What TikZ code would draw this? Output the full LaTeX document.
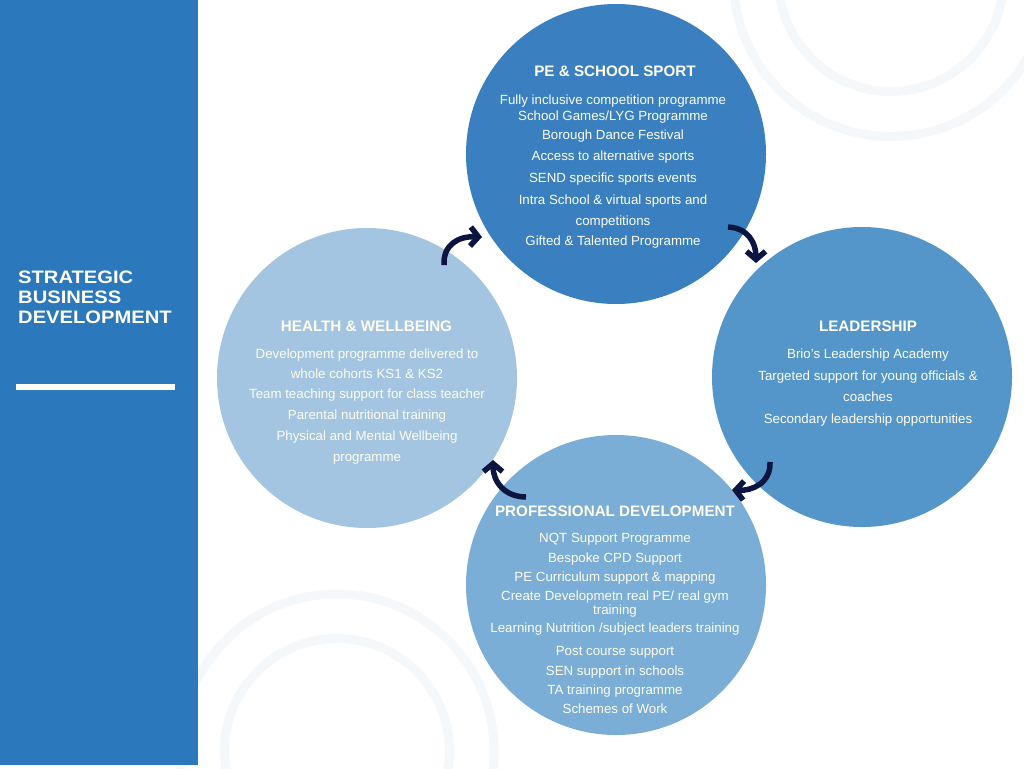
\documentclass[tikz,border=0pt]{standalone}
\usepackage{fontspec}
\setmainfont{Liberation Sans}
\newfontfamily\sidefont[FakeStretch=1.12]{Liberation Sans}
\usetikzlibrary{arrows.meta}
\definecolor{panel}{HTML}{2B78BC}
\definecolor{cpe}{HTML}{3A80C0}
\definecolor{clead}{HTML}{5596CA}
\definecolor{cprof}{HTML}{7AAED6}
\definecolor{chealth}{HTML}{A3C5E2}
\definecolor{ringc}{HTML}{F5F8FB}
\definecolor{cream}{HTML}{FFFDF0}
\definecolor{navy}{HTML}{0C1540}
\tikzset{
  ring/.style={draw=ringc, line width=9pt},
  bigcirc/.style={circle, minimum size=300pt, inner sep=0pt, draw=none},
  ttl/.style={anchor=base, text=cream, inner sep=0pt, font=\fontsize{15.2}{18}\selectfont\bfseries},
  txt/.style={anchor=base, text=cream, inner sep=0pt, font=\fontsize{13.3}{16}\selectfont},
  side/.style={anchor=base west, text=cream, inner sep=0pt, font=\sidefont\fontsize{18}{20}\selectfont\bfseries},
  arr/.style={draw=navy, line width=5.5pt, -{Straight Barb[length=8pt,width=19pt]}}
}
\begin{document}
\begin{tikzpicture}[x=1pt,y=-1pt]
\useasboundingbox (0,0) rectangle (1024,768);
\fill[white] (0,0) rectangle (1024,768);
% decorative rings
\draw[ring] (891,-21) circle[radius=112.5];
\draw[ring] (891,-21) circle[radius=157.5];
\draw[ring] (337,751) circle[radius=112.5];
\draw[ring] (337,751) circle[radius=157];
% left panel
\fill[panel] (0,0) rectangle (198,765);
\node[side] (s1) at (18,283) {STRATEGIC};
\node[side] (s2) at (18,303) {BUSINESS};
\node[side] (s3) at (18,323) {DEVELOPMENT};
\fill[cream] (16,384) rectangle (175,390);
% circles
\node[bigcirc, fill=cpe] (pe) at (616,154) {};
\node[bigcirc, fill=clead] (lead) at (862,377) {};
\node[bigcirc, fill=cprof] (prof) at (616,585) {};
\node[bigcirc, fill=chealth] (health) at (367,378) {};
% PE text
\node[ttl] (pet) at (615,77) {PE \& SCHOOL SPORT};
\node[txt] (pe1) at (613,104) {Fully inclusive competition programme};
\node[txt] (pe2) at (613,120.5) {School Games/LYG Programme};
\node[txt] (pe3) at (613,139.3) {Borough Dance Festival};
\node[txt] (pe4) at (613,160.7) {Access to alternative sports};
\node[txt] (pe5) at (613,182.7) {SEND specific sports events};
\node[txt] (pe6) at (613,204.7) {Intra School \& virtual sports and};
\node[txt] (pe7) at (613,225) {competitions};
\node[txt] (pe8) at (613,245.7) {Gifted \& Talented Programme};
% Leadership text
\node[ttl] (lt) at (868,331) {LEADERSHIP};
\node[txt] (l1) at (868,358.3) {Brio's Leadership Academy};
\node[txt] (l2) at (868,380.7) {Targeted support for young officials \&};
\node[txt] (l3) at (868,401.7) {coaches};
\node[txt] (l4) at (868,423.3) {Secondary leadership opportunities};
% Health text
\node[ttl] (ht) at (366.5,331) {HEALTH \& WELLBEING};
\node[txt] (h1) at (367,358.7) {Development programme delivered to};
\node[txt] (h2) at (367,378.7) {whole cohorts KS1 \& KS2};
\node[txt] (h3) at (367,398.7) {Team teaching support for class teacher};
\node[txt] (h4) at (367,419.3) {Parental nutritional training};
\node[txt] (h5) at (367,440.3) {Physical and Mental Wellbeing};
\node[txt] (h6) at (367,461.7) {programme};
% Professional text
\node[ttl] (pt) at (615,516.7) {PROFESSIONAL DEVELOPMENT};
\node[txt] (p1) at (615,542.7) {NQT Support Programme};
\node[txt] (p2) at (615,562.7) {Bespoke CPD Support};
\node[txt] (p3) at (615,581.7) {PE Curriculum support \& mapping};
\node[txt] (p4) at (615,600) {Create Developmetn real PE/ real gym};
\node[txt] (p5) at (615,614.3) {training};
\node[txt] (p6) at (615,632.7) {Learning Nutrition /subject leaders training};
\node[txt] (p7) at (615,655) {Post course support};
\node[txt] (p8) at (615,675.7) {SEN support in schools};
\node[txt] (p9) at (615,694.3) {TA training programme};
\node[txt] (p10) at (615,713.3) {Schemes of Work};
% arrows
\coordinate (a1s) at (444,265);
\coordinate (a1e) at (482,237);
\coordinate (a2s) at (728,227);
\coordinate (a2e) at (756,263);
\coordinate (a3s) at (770,462);
\coordinate (a3e) at (732,490);
\coordinate (a4s) at (526,497);
\coordinate (a4e) at (493,460);
\draw[arr] (a1s) .. controls (443,245) and (458,236) .. (a1e);
\draw[arr] (a2s) .. controls (748,228) and (756,243) .. (a2e);
\draw[arr] (a3s) .. controls (771,483) and (752,491) .. (a3e);
\draw[arr] (a4s) .. controls (505,497) and (493,482) .. (a4e);
\end{tikzpicture}
\end{document}
